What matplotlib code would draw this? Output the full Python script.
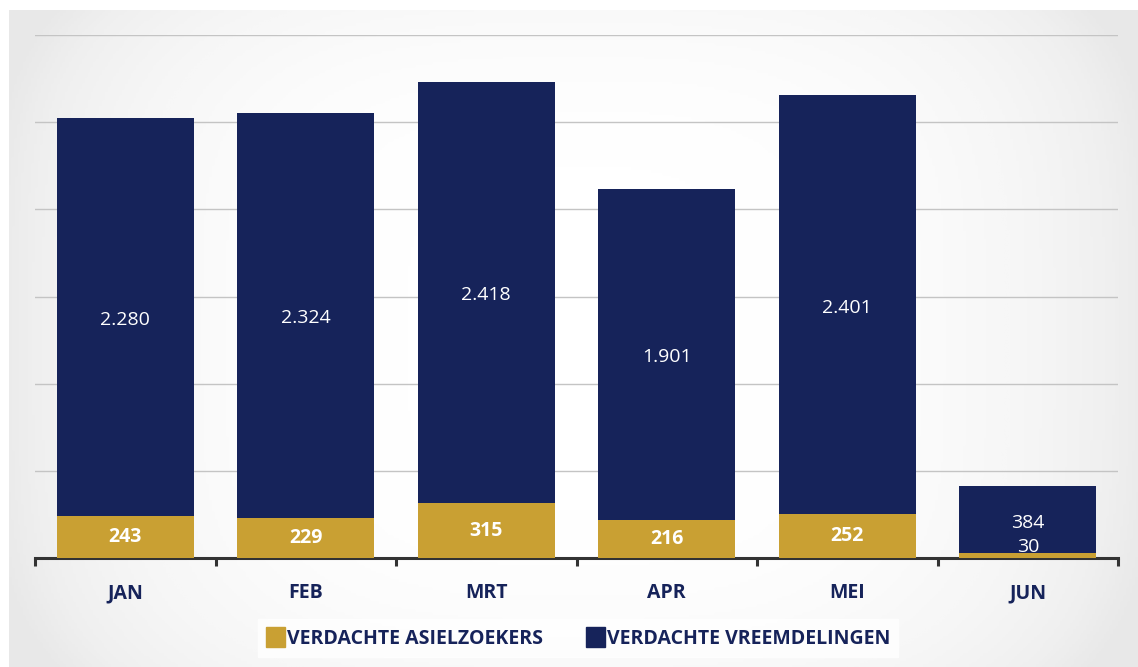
import matplotlib
matplotlib.use("Agg")
import matplotlib.pyplot as plt
import numpy as np
from matplotlib.patches import Patch

months = ["JAN", "FEB", "MRT", "APR", "MEI", "JUN"]
asielzoekers = [243, 229, 315, 216, 252, 30]
vreemdelingen = [2280, 2324, 2418, 1901, 2401, 384]
series_names = ["VERDACHTE ASIELZOEKERS", "VERDACHTE VREEMDELINGEN"]

GOLD = "#c9a033"
NAVY = "#16235a"
FONT = ["Open Sans", "DejaVu Sans"]
plt.rcParams['font.family'] = FONT

def fmt(v):
    return f"{v:,}".replace(",", ".")

fig = plt.figure(figsize=(11.38, 6.67), dpi=100)
fig.patch.set_facecolor("white")

# background gradient (grey edges, white centre)
bg = fig.add_axes([0.008, 0.0, 0.992, 0.985], zorder=-10)
xx = np.linspace(-1, 1, 400)
yy = np.linspace(-1, 1, 240)
X, Y = np.meshgrid(xx, yy)
R = np.clip(np.abs(X) ** 3 * 0.9 + np.abs(Y) ** 4 * 0.3, 0, 1)
bg.imshow(R, cmap="Greys", vmin=0, vmax=6, aspect="auto", extent=[0, 1, 0, 1])
bg.axis("off")

ax = fig.add_axes([35 / 1138, 1 - 558 / 667, (1118 - 35) / 1138, (558 - 35) / 667])
ax.patch.set_alpha(0)
x = np.arange(len(months))
w = 0.76
ax.bar(x, asielzoekers, width=w, color=GOLD, zorder=3)
ax.bar(x, vreemdelingen, width=w, bottom=asielzoekers, color=NAVY, zorder=3)

ax.set_xlim(-0.5, len(months) - 0.5)
ax.set_ylim(0, 3000)
ax.set_yticks(np.arange(0, 3001, 500))
ax.yaxis.grid(True, color="#c4c4c4", lw=1.0, zorder=0)
ax.tick_params(axis="y", length=0, labelleft=False)
for s in ["top", "right", "left"]:
    ax.spines[s].set_visible(False)
ax.spines["bottom"].set_color("#333333")
ax.spines["bottom"].set_linewidth(2.2)

ax.set_xticks(np.arange(-0.5, len(months), 1.0), minor=False)
ax.set_xticklabels([])
ax.tick_params(axis="x", which="major", length=6, width=2.2, color="#333333", direction="out")
ax.set_xticks(x, minor=True)
ax.set_xticklabels(months, minor=True, fontsize=14, fontweight="bold", color=NAVY)
ax.tick_params(axis="x", which="minor", length=0, pad=18)

for i in range(len(months)):
    a, v = asielzoekers[i], vreemdelingen[i]
    ax.annotate(fmt(v), (x[i], a + v / 2), xytext=(0, -2 if a > 100 else -3),
                textcoords="offset points", ha="center", va="center",
                color="white", fontsize=14, zorder=5)
    if a > 100:
        ax.text(x[i], a / 2, fmt(a), ha="center", va="center", color="white",
                fontsize=14, fontweight="bold", zorder=5)
    else:
        ax.annotate(fmt(a), (x[i], a / 2), xytext=(0, 6), textcoords="offset points",
                    ha="center", va="center", color="white", fontsize=14, zorder=5)

handles = [Patch(color=GOLD), Patch(color=NAVY)]
leg = fig.legend(handles, series_names, loc="center", bbox_to_anchor=(578 / 1138, 1 - 638 / 667),
                 ncol=2, frameon=True, fancybox=False, edgecolor="white", facecolor="white",
                 prop={"family": FONT, "weight": "bold", "size": 14}, handlelength=1.0,
                 handleheight=1.2, handletextpad=0.1, columnspacing=2.2, borderpad=0.4)
for t in leg.get_texts():
    t.set_color(NAVY)

fig.savefig("out.png", dpi=100)
